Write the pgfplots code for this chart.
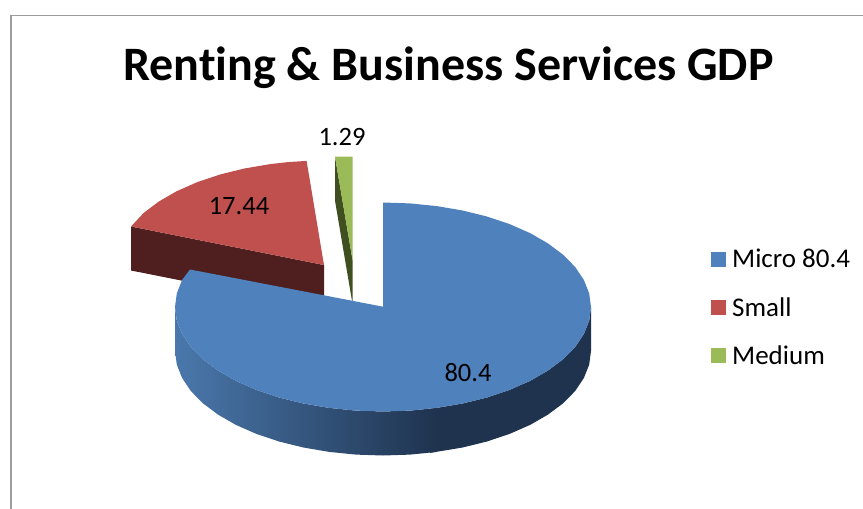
\documentclass[border=0pt]{standalone}
\usepackage{fontspec}
\setmainfont[Ligatures=NoCommon]{Carlito}
\usepackage{pgfplots}
\pgfplotsset{compat=1.18}

\definecolor{microtop}{HTML}{4F81BD}
\definecolor{microlight}{HTML}{4A78AC}
\definecolor{micromid}{HTML}{3C608C}
\definecolor{microdark}{HTML}{1F334F}
\definecolor{smalltop}{HTML}{C0504D}
\definecolor{smallside}{HTML}{4F1F1F}
\definecolor{mediumtop}{HTML}{9BBB59}
\definecolor{mediumside}{HTML}{3F4F20}
\definecolor{framegray}{HTML}{9C9C9C}

\begin{document}
\begin{tikzpicture}
  \useasboundingbox (0,0) rectangle (863pt,509pt);
  \begin{axis}[
      at={(0,0)}, anchor=south west,
      scale only axis,
      width=863pt, height=509pt,
      xmin=0, xmax=863, ymin=0, ymax=509,
      y dir=reverse,
      hide axis,
      clip=false,
      legend image code/.code={\fill[draw=none,#1] (0pt,-7.5pt) rectangle (15pt,7.5pt);},
      legend cell align=left,
      legend style={at={(axis cs:705,247)}, anchor=north west, draw=none, fill=none,
        font=\fontsize{27}{32}\selectfont, row sep=24pt,
        inner xsep=6pt, inner ysep=0pt,
        /tikz/column 1/.style={column sep=4pt}},
    ]
    % chart frame, only top and left show
    \draw[framegray, line width=1.6pt] (axis cs:11,509) -- (axis cs:11,15.3) -- (axis cs:863,15.3);

    % medium slice
    \addplot[forget plot, draw=none, fill=mediumside] coordinates {
      (335,156.7) (352.7,261) (352.7,305) (335,200.7)
    } --cycle;
    \addplot[forget plot, draw=none, fill=mediumtop] coordinates {
      (335,156.7) (352.7,156.7) (352.7,261)
    } --cycle;

    % small slice
    \addplot[forget plot, draw=none, fill=smallside] coordinates {
      (131,226.5) (324,265) (324,309) (131,270.5)
    } --cycle;
    \addplot[forget plot, draw=none, fill=smalltop] coordinates {
      (324,265) (306.6,160.9) (287.9,162.1) (270.2,164.1) (244.4,168.5) (220,174.5)
      (197.4,182.1) (176.9,191.1) (159,201.4) (143.9,212.7) (131,226.5)
    } --cycle;

    % micro slice, side wall right then left
    \addplot[forget plot, draw=none, fill=microdark] coordinates {
      (591,307) (589.2,320.6) (583.9,334) (575.2,347) (563.1,359.3) (548,370.6)
      (530.1,380.9) (509.6,389.9) (487,397.5) (462.6,403.5) (430,409)
      (430,452.9) (462.6,447.5) (487,441.5) (509.6,433.9) (530.1,424.9)
      (548,414.6) (563.1,403.3) (575.2,391) (583.9,378) (589.2,364.6) (591,351)
    } --cycle;
    \addplot[forget plot, draw=none, left color=microlight, middle color=micromid, right color=microdark] coordinates {
      (436.8,407.9) (410.1,410.6) (383,411.5) (355.9,410.6) (329.2,407.9) (303.4,403.5)
      (279,397.5) (256.4,389.9) (235.9,380.9) (218,370.6) (202.9,359.3) (190.8,347)
      (182.1,334) (176.8,320.6) (175,307)
      (175,351) (176.8,364.6) (182.1,378) (190.8,391) (202.9,403.3) (218,414.6)
      (235.9,424.9) (256.4,433.9) (279,441.5) (303.4,447.5) (329.2,451.9) (355.9,454.6)
      (383,455.5) (410.1,454.6) (436.8,451.9)
    } --cycle;
    % micro top face
    \addplot[forget plot, draw=none, fill=microtop] coordinates {
      (383,306.7) (383,202.5) (410.1,203.4) (436.8,206.1) (462.6,210.5) (487,216.5)
      (509.6,224.1) (530.1,233.1) (548,243.4) (563.1,254.7) (575.2,267) (583.9,280)
      (589.2,293.4) (591,307) (589.2,320.6) (583.9,334) (575.2,347) (563.1,359.3)
      (548,370.6) (530.1,380.9) (509.6,389.9) (487,397.5) (462.6,403.5) (436.8,407.9)
      (410.1,410.6) (383,411.5) (355.9,410.6) (329.2,407.9) (303.4,403.5) (279,397.5)
      (256.4,389.9) (235.9,380.9) (218,370.6) (202.9,359.3) (190.8,347) (182.1,334)
      (176.8,320.6) (175,307) (176.8,293.4) (182.1,280) (190,269.5)
    } --cycle;

    % data labels and title
    \node[font=\fontsize{26.5}{30}\selectfont] at (axis cs:468,372.5) {80.4};
    \node[font=\fontsize{26.5}{30}\selectfont] at (axis cs:239,206) {17.44};
    \node[font=\fontsize{26.5}{30}\selectfont] at (axis cs:342,137) {1.29};
    \node[font=\fontsize{48}{54}\selectfont\bfseries] at (axis cs:448.5,68) {Renting \& Business Services GDP};

    \addlegendimage{fill=microtop}
    \addlegendimage{fill=smalltop}
    \addlegendimage{fill=mediumtop}
    \legend{Micro 80.4,Small,Medium}
  \end{axis}
\end{tikzpicture}
\end{document}
